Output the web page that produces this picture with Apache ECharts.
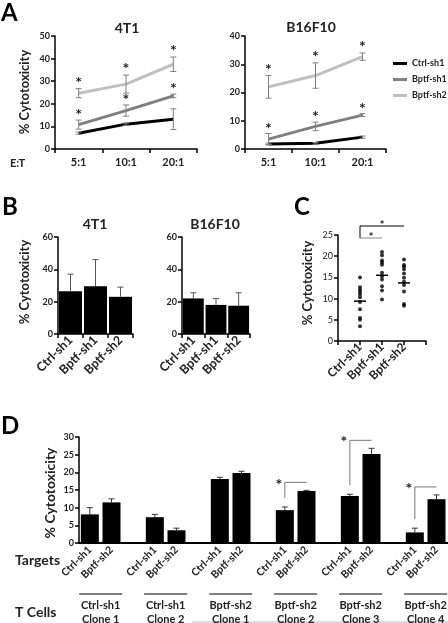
<!DOCTYPE html>
<html><head><meta charset="utf-8">
<script src="https://cdn.jsdelivr.net/npm/echarts@6/dist/echarts.min.js"></script>
<style>html,body{margin:0;padding:0;background:#fff}#c{width:448px;height:623px}</style>
</head><body><div id="c"></div>
<script>
// ---------- Panel A ----------
const ratioLabels = ['5:1', '10:1', '20:1'];
const groupNames = ['Ctrl-sh1', 'Bptf-sh1', 'Bptf-sh2'];
const a4t1Ctrl = [7, 11, 13.2];
const a4t1CtrlErr = [0.5, 0.5, 4.6];
const a4t1Sh1 = [10.8, 17, 23.5];
const a4t1Sh1Err = [2, 2.5, 0.8];
const a4t1Sh2 = [24.7, 28.7, 37.5];
const a4t1Sh2Err = [2, 4, 3.2];
const aB16Ctrl = [1.8, 2, 4.2];
const aB16CtrlErr = [0.3, 0.3, 0.4];
const aB16Sh1 = [3.5, 8, 12];
const aB16Sh1Err = [2, 1.5, 0.5];
const aB16Sh2 = [22, 26, 32.7];
const aB16Sh2Err = [4, 4.5, 1.3];
const aSig = [true, true, true];
// ---------- Panel B ----------
const b4t1 = [26.5, 29.5, 23];
const b4t1Err = [10.5, 16.5, 6];
const bB16 = [22, 18, 17.5];
const bB16Err = [3.5, 4, 8];
// ---------- Panel C ----------
const cCtrl = [15, 12.7, 12.1, 11.6, 11, 10.3, 9.2, 7.5, 5.4, 5.0, 3.5];
const cSh1 = [21, 20.2, 19, 18.5, 18, 16.1, 15.3, 14.5, 12.9, 11.9, 9.8];
const cSh2 = [19.2, 17.9, 17.5, 16.9, 15.9, 14.9, 14.0, 13.2, 11.7, 8.7, 8.3];
const cMedians = [9.4, 15.5, 13.7];
const cBrackets = [[1, 3], [1, 2]];
// ---------- Panel D ----------
const dTargets = ['Ctrl-sh1', 'Bptf-sh2'];
const dValues = [8.1, 11.5, 7.3, 3.6, 18.1, 19.8, 9.3, 14.7, 13.3, 25.2, 3.0, 12.4];
const dErr = [1.9, 1.0, 0.8, 0.6, 0.5, 0.5, 0.9, 0.2, 0.5, 1.6, 1.2, 1.2];
const dTCells = ['Ctrl-sh1\nClone 1', 'Ctrl-sh1\nClone 2', 'Bptf-sh2\nClone 1', 'Bptf-sh2\nClone 2', 'Bptf-sh2\nClone 3', 'Bptf-sh2\nClone 4'];
const dSig = [false, false, false, true, true, true];

const F = 'Lato, "Open Sans", sans-serif';
const TC = '#222';
const COLORS = ['#000000', '#7f7f7f', '#c0c0c0'];

const chart = echarts.init(document.getElementById('c'));

function yAx(gi, max, interval, fs, bold) {
  return { type: 'value', gridIndex: gi, min: 0, max: max, interval: interval,
    axisLine: { show: true, lineStyle: { color: '#000', width: 1.5 } },
    axisTick: { show: true, length: 4, lineStyle: { color: '#000', width: 1.5 } },
    axisLabel: { fontFamily: F, fontSize: fs, fontWeight: bold ? 'bold' : 'normal', color: TC, margin: 5 },
    splitLine: { show: false } };
}
function xCat(gi, data, extra) {
  return Object.assign({ type: 'category', gridIndex: gi, data: data,
    axisLine: { show: true, lineStyle: { color: '#000', width: 1.5 } },
    axisTick: { show: true, length: 4, lineStyle: { color: '#000', width: 1.5 } },
    axisLabel: { fontFamily: F, fontSize: 11, fontWeight: 'bold', color: TC, margin: 8, interval: 0 },
    splitLine: { show: false } }, extra || {});
}
function rotLabel(fs, margin) {
  return { fontFamily: F, fontSize: fs, fontWeight: 'bold', color: TC, margin: margin, rotate: 45, interval: 0 };
}
function txtStyle(text, size, weight, align, valign, fill) {
  return { text: text, fontFamily: F, fontSize: size, fontWeight: weight || 'bold',
    fill: fill || TC, align: align || 'center', verticalAlign: valign || 'middle',
    textAlign: align || 'center', textVerticalAlign: valign || 'middle' };
}
function errSeries(ai, items, color, both, cap, lw) {
  return { type: 'custom', xAxisIndex: ai, yAxisIndex: ai, clip: false, z: 5, silent: true,
    data: items,
    renderItem: function (p, api) {
      const x = api.value(0), v = api.value(1), e = api.value(2);
      const t = api.coord([x, v + e]), b = api.coord([x, both ? v - e : v]);
      const st = { stroke: color, lineWidth: lw };
      const ch = [
        { type: 'line', shape: { x1: t[0], y1: t[1], x2: b[0], y2: b[1] }, style: st },
        { type: 'line', shape: { x1: t[0] - cap, y1: t[1], x2: t[0] + cap, y2: t[1] }, style: st }];
      if (both) ch.push({ type: 'line', shape: { x1: b[0] - cap, y1: b[1], x2: b[0] + cap, y2: b[1] }, style: st });
      return { type: 'group', children: ch };
    } };
}
function idxItems(vals, errs) { return vals.map(function (v, i) { return [i, v, errs[i]]; }); }
function starSeries(ai, vals, errs, sig, off) {
  return { type: 'custom', xAxisIndex: ai, yAxisIndex: ai, clip: false, z: 6, silent: true,
    data: idxItems(vals, errs),
    renderItem: function (p, api) {
      if (!sig[p.dataIndex]) return null;
      const c = api.coord([api.value(0), api.value(1) + api.value(2)]);
      return { type: 'text', x: c[0], y: c[1] - off, style: txtStyle('*', 16, 'bold', 'center', 'middle', TC) };
    } };
}
function lineSeries(ai, name, data, color) {
  return { type: 'line', name: name, xAxisIndex: ai, yAxisIndex: ai, data: data, symbol: 'none',
    color: color, lineStyle: { color: color, width: 3 }, itemStyle: { color: color }, z: 3 };
}

// Panel D slot layout: two bars + a gap per T-cell group
const dCats = [], dBars = [], dErrItems = [];
dTCells.forEach(function (_, g) {
  dCats.push(dTargets[0], dTargets[1], '');
  dBars.push(dValues[2 * g], dValues[2 * g + 1], '-');
  dErrItems.push([3 * g, dValues[2 * g], dErr[2 * g]], [3 * g + 1, dValues[2 * g + 1], dErr[2 * g + 1]]);
});

const cScatter = [];
[cCtrl, cSh1, cSh2].forEach(function (arr, k) { arr.forEach(function (v) { cScatter.push([k + 1, v]); }); });

const option = {
  animation: false,
  backgroundColor: '#fff',
  grid: [
    { left: 55, top: 36, width: 142, height: 113, outerBoundsMode: 'none', containLabel: false },
    { left: 245, top: 36, width: 141, height: 113, outerBoundsMode: 'none', containLabel: false },
    { left: 58, top: 237, width: 75, height: 97, outerBoundsMode: 'none', containLabel: false },
    { left: 182, top: 237, width: 68, height: 97, outerBoundsMode: 'none', containLabel: false },
    { left: 338, top: 235, width: 88, height: 106, outerBoundsMode: 'none', containLabel: false },
    { left: 79, top: 437, width: 390, height: 106, outerBoundsMode: 'none', containLabel: false }
  ],
  legend: { show: true, orient: 'vertical', left: 388, top: 54, itemWidth: 14, itemHeight: 3, icon: 'rect',
    itemGap: 7, data: groupNames,
    textStyle: { fontFamily: F, fontSize: 9, fontWeight: 'bold', color: TC } },
  xAxis: [
    xCat(0, ratioLabels),
    xCat(1, ratioLabels),
    xCat(2, groupNames, { axisLabel: rotLabel(12.5, 4) }),
    xCat(3, groupNames, { axisLabel: rotLabel(12.5, 4) }),
    { type: 'value', gridIndex: 4, min: 0, max: 4, interval: 1,
      axisLine: { show: true, lineStyle: { color: '#000', width: 1.5 } },
      axisTick: { show: true, length: 4, lineStyle: { color: '#000', width: 1.5 } },
      axisLabel: Object.assign(rotLabel(12, 4), {
        formatter: function (v) { return v >= 1 && v <= 3 ? groupNames[v - 1] : ''; } }),
      splitLine: { show: false } },
    xCat(5, dCats, { axisTick: { show: false },
      axisLine: { show: true, lineStyle: { color: '#000', width: 2 } },
      axisLabel: rotLabel(10.5, 5) })
  ],
  yAxis: [
    yAx(0, 50, 10, 9, true),
    yAx(1, 40, 10, 9, true),
    yAx(2, 60, 20, 9, true),
    yAx(3, 60, 20, 9, true),
    yAx(4, 25, 5, 9, false),
    yAx(5, 30, 5, 9, true)
  ],
  series: [
    lineSeries(0, groupNames[0], a4t1Ctrl, COLORS[0]),
    lineSeries(0, groupNames[1], a4t1Sh1, COLORS[1]),
    lineSeries(0, groupNames[2], a4t1Sh2, COLORS[2]),
    lineSeries(1, groupNames[0], aB16Ctrl, COLORS[0]),
    lineSeries(1, groupNames[1], aB16Sh1, COLORS[1]),
    lineSeries(1, groupNames[2], aB16Sh2, COLORS[2]),
    errSeries(0, idxItems(a4t1Ctrl, a4t1CtrlErr), '#808080', true, 3, 1),
    errSeries(0, idxItems(a4t1Sh1, a4t1Sh1Err), '#808080', true, 3, 1),
    errSeries(0, idxItems(a4t1Sh2, a4t1Sh2Err), '#808080', true, 3, 1),
    errSeries(1, idxItems(aB16Ctrl, aB16CtrlErr), '#808080', true, 3, 1),
    errSeries(1, idxItems(aB16Sh1, aB16Sh1Err), '#808080', true, 3, 1),
    errSeries(1, idxItems(aB16Sh2, aB16Sh2Err), '#808080', true, 3, 1),
    starSeries(0, a4t1Sh1, a4t1Sh1Err, aSig, 5),
    starSeries(0, a4t1Sh2, a4t1Sh2Err, aSig, 6),
    starSeries(1, aB16Sh1, aB16Sh1Err, aSig, 5),
    starSeries(1, aB16Sh2, aB16Sh2Err, aSig, 6),
    // Panel B
    { type: 'bar', xAxisIndex: 2, yAxisIndex: 2, data: b4t1, barWidth: '92%', itemStyle: { color: '#000' } },
    { type: 'bar', xAxisIndex: 3, yAxisIndex: 3, data: bB16, barWidth: '92%', itemStyle: { color: '#000' } },
    errSeries(2, idxItems(b4t1, b4t1Err), '#555', false, 3, 1),
    errSeries(3, idxItems(bB16, bB16Err), '#555', false, 3, 1),
    // Panel C
    { type: 'scatter', xAxisIndex: 4, yAxisIndex: 4, data: cScatter, symbolSize: 4, itemStyle: { color: '#000' } },
    { type: 'custom', xAxisIndex: 4, yAxisIndex: 4, clip: false, silent: true, data: cMedians.map(function (m, i) { return [i + 1, m]; }),
      renderItem: function (p, api) {
        const c = api.coord([api.value(0), api.value(1)]);
        return { type: 'line', shape: { x1: c[0] - 6, y1: c[1], x2: c[0] + 6, y2: c[1] }, style: { stroke: '#000', lineWidth: 1.5 } };
      } },
    { type: 'custom', xAxisIndex: 4, yAxisIndex: 4, clip: false, silent: true, data: cBrackets,
      renderItem: function (p, api) {
        const a = api.coord([api.value(0), 25]), b = api.coord([api.value(1), 25]);
        const top = p.dataIndex === 0;
        const y = top ? a[1] - 9 : a[1] + 3;
        const col = top ? '#000' : '#888';
        const ch = [{ type: 'line', shape: { x1: a[0], y1: y, x2: b[0], y2: y }, style: { stroke: col, lineWidth: 1 } }];
        if (top) ch.push({ type: 'line', shape: { x1: a[0], y1: y, x2: a[0], y2: a[1] + 3 }, style: { stroke: '#000', lineWidth: 1 } });
        ch.push({ type: 'text', x: (a[0] + b[0]) / 2, y: y - 1, style: txtStyle('*', 12, 'bold', 'center', 'middle', TC) });
        return { type: 'group', children: ch };
      } },
    // Panel D
    { type: 'bar', xAxisIndex: 5, yAxisIndex: 5, data: dBars, barWidth: 18, itemStyle: { color: '#000' } },
    errSeries(5, dErrItems, '#333', false, 3, 1),
    { type: 'custom', xAxisIndex: 5, yAxisIndex: 5, clip: false, silent: true, data: dSig.map(function (s, g) { return [3 * g, 0]; }),
      renderItem: function (p, api) {
        const g = p.dataIndex;
        if (!dSig[g]) return null;
        const c = api.coord([3 * g, dValues[2 * g] + dErr[2 * g]]);
        const b = api.coord([3 * g + 1, dValues[2 * g + 1] + dErr[2 * g + 1]]);
        const yTop = b[1] - 8, yBot = c[1] - 9;
        const st = { stroke: '#777', lineWidth: 1 };
        return { type: 'group', children: [
          { type: 'line', shape: { x1: c[0], y1: yBot, x2: c[0], y2: yTop }, style: st },
          { type: 'line', shape: { x1: c[0], y1: yTop, x2: b[0], y2: yTop }, style: st },
          { type: 'text', x: c[0] - 6, y: yTop + 2, style: txtStyle('*', 16, 'bold', 'center', 'middle', TC) }] };
      } },
    { type: 'custom', xAxisIndex: 5, yAxisIndex: 5, clip: false, silent: true, data: dTCells.map(function (t, g) { return [3 * g, 0]; }),
      renderItem: function (p, api) {
        const g = p.dataIndex;
        const a = api.coord([3 * g, 0]), b = api.coord([3 * g + 1, 0]);
        const cx = (a[0] + b[0]) / 2;
        return { type: 'group', children: [
          { type: 'line', shape: { x1: cx - 21.5, y1: a[1] + 51, x2: cx + 21.5, y2: a[1] + 51 }, style: { stroke: '#000', lineWidth: 1 } },
          { type: 'text', x: cx, y: a[1] + 55, style: Object.assign(txtStyle(dTCells[g], 11, 'bold', 'center', 'top', TC), { lineHeight: 14 }) }] };
      } }
  ],
  graphic: [
    { type: 'text', x: 1, y: 1, style: txtStyle('A', 24, 'bold', 'left', 'top', '#000') },
    { type: 'text', x: 2, y: 195, style: txtStyle('B', 24, 'bold', 'left', 'top', '#000') },
    { type: 'text', x: 294, y: 195, style: txtStyle('C', 24, 'bold', 'left', 'top', '#000') },
    { type: 'text', x: 1, y: 414, style: txtStyle('D', 24, 'bold', 'left', 'top', '#000') },
    { type: 'text', x: 127, y: 28, style: txtStyle('4T1', 14) },
    { type: 'text', x: 311, y: 27, style: txtStyle('B16F10', 14) },
    { type: 'text', x: 95, y: 224, style: txtStyle('4T1', 14) },
    { type: 'text', x: 215, y: 224, style: txtStyle('B16F10', 14) },
    { type: 'text', x: 25, y: 92, rotation: Math.PI / 2, style: txtStyle('% Cytotoxicity', 13) },
    { type: 'text', x: 25, y: 282, rotation: Math.PI / 2, style: txtStyle('% Cytotoxicity', 13) },
    { type: 'text', x: 308, y: 283, rotation: Math.PI / 2, style: txtStyle('% Cytotoxicity', 13) },
    { type: 'text', x: 50, y: 493, rotation: Math.PI / 2, style: txtStyle('% Cytotoxicity', 14) },
    { type: 'text', x: 10, y: 163, style: txtStyle('E:T', 11, 'bold', 'left', 'middle') },
    { type: 'text', x: 15, y: 560, style: txtStyle('Targets', 14, 'bold', 'left', 'middle') },
    { type: 'text', x: 15, y: 612, style: txtStyle('T Cells', 14, 'bold', 'left', 'middle') },
    { type: 'line', shape: { x1: 192, y1: 622, x2: 448, y2: 622 }, style: { stroke: '#bbb', lineWidth: 1 } }
  ]
};
chart.setOption(option);
</script>
</body></html>
